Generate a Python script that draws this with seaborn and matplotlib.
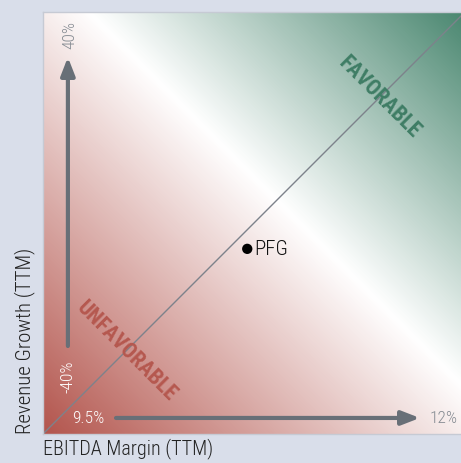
import numpy as np
import pandas as pd
import matplotlib
matplotlib.use("Agg")
import matplotlib.pyplot as plt
from matplotlib.colors import LinearSegmentedColormap
import seaborn as sns

# Data
companies = ["PFG"]
ebitda_margin = [10.71]      # %
revenue_growth = [-4.9]      # %
x_bounds = [9.5, 12.0]
y_bounds = [-40.0, 40.0]
x_bound_labels = ["9.5%", "12%"]
y_bound_labels = ["-40%", "40%"]
x_title = "EBITDA Margin (TTM)"
y_title = "Revenue Growth (TTM)"
zone_labels = ["FAVORABLE", "UNFAVORABLE"]

df = pd.DataFrame({"company": companies, "margin": ebitda_margin, "growth": revenue_growth})

sns.set_theme(style="white")
plt.rcParams["font.family"] = ["Roboto Condensed", "DejaVu Sans"]
LIGHT = 300

BG = "#d9deea"
fig = plt.figure(figsize=(4.61, 4.64), dpi=100, facecolor=BG)
ax = fig.add_axes([43 / 461, 1 - 435 / 464, 422 / 461, 422 / 464])
ax.set_xlim(*x_bounds)
ax.set_ylim(*y_bounds)

# Diagonal red -> white -> green background
cmap = LinearSegmentedColormap.from_list(
    "zone", [(0.0, "#b3554d"), (0.555, "#ffffff"), (1.0, "#4a8770")])
n = 400
gx, gy = np.meshgrid(np.linspace(0, 1, n), np.linspace(0, 1, n))
ax.imshow((gx + gy) / 2, cmap=cmap, vmin=0, vmax=1, origin="lower",
          extent=[*x_bounds, *y_bounds], aspect="auto", zorder=0,
          interpolation="bilinear")

# Diagonal divider
sns.lineplot(x=x_bounds, y=y_bounds, ax=ax, color="#7d828b", lw=1, zorder=2)

# Company point
sns.scatterplot(data=df, x="margin", y="growth", ax=ax, color="black",
                s=55, edgecolor="none", zorder=4)
for _, r in df.iterrows():
    ax.annotate(r["company"], (r["margin"], r["growth"]), xytext=(5, 0),
                textcoords="offset points", va="center", ha="left",
                fontsize=15, fontweight=LIGHT, color="#111111", zorder=5)

# Axis arrows
arrow_kw = dict(arrowstyle="-|>,head_length=0.9,head_width=0.35",
                color="#686f77", lw=3, shrinkA=0, shrinkB=0)
ax.annotate("", xy=(0.059, 0.893), xytext=(0.059, 0.2085),
            xycoords="axes fraction", arrowprops=arrow_kw, zorder=3)
ax.annotate("", xy=(0.893, 0.038), xytext=(0.173, 0.038),
            xycoords="axes fraction", arrowprops=arrow_kw, zorder=3)

# Range labels
ax.text(0.064, 0.948, y_bound_labels[1], transform=ax.transAxes, rotation=90,
        ha="center", va="center", fontsize=12.5, fontweight=LIGHT, color="#868c93")
ax.text(0.059, 0.137, y_bound_labels[0], transform=ax.transAxes, rotation=90,
        ha="center", va="center", fontsize=12.5, fontweight=LIGHT, color="white")
ax.text(0.107, 0.038, x_bound_labels[0], transform=ax.transAxes,
        ha="center", va="center", fontsize=12.5, fontweight=LIGHT, color="white")
ax.text(0.950, 0.038, x_bound_labels[1], transform=ax.transAxes,
        ha="center", va="center", fontsize=12.5, fontweight=LIGHT, color="#868c93")

# Zone labels
ax.text((380 - 43) / 422, (435 - 97) / 422, zone_labels[0], transform=ax.transAxes,
        rotation=-45, ha="center", va="center", fontsize=15.5,
        fontweight="bold", color="#3f7d65")
ax.text((127 - 43) / 422, (435 - 351) / 422, zone_labels[1], transform=ax.transAxes,
        rotation=-45, ha="center", va="center", fontsize=15.5,
        fontweight="bold", color="#b5584f")

ax.set_xticks([])
ax.set_yticks([])
ax.set_xlabel("")
ax.set_ylabel("")
for s in ax.spines.values():
    s.set_color("#c6cad4")
    s.set_linewidth(1)

fig.text(43 / 461, 1 - 449 / 464, x_title, ha="left", va="center",
         fontsize=14.5, fontweight=LIGHT, color="#222222")
fig.text(25 / 461, 1 - 434 / 464, y_title, rotation=90, ha="center",
         va="bottom", fontsize=15, fontweight=LIGHT, color="#222222")

fig.savefig("out.png", dpi=100, facecolor=BG)
